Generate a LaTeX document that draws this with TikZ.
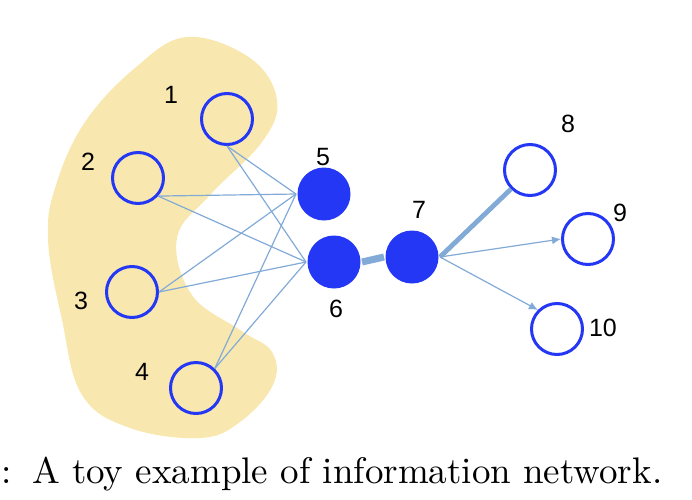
\documentclass[tikz,border=0pt]{standalone}
\usepackage{fontspec}
\newfontfamily\labelfont{Liberation Sans}
\usepackage{tikz}
\usetikzlibrary{arrows.meta}
\definecolor{nodeblue}{RGB}{35,55,245}
\definecolor{edgeblue}{RGB}{130,170,215}
\definecolor{blobyellow}{RGB}{248,232,176}
\tikzset{
    netnode/.style={circle,inner sep=0pt,line width=1.5pt},
    opennode/.style={netnode,draw=nodeblue,minimum size=25.5pt},
    fullnode/.style={netnode,fill=nodeblue,minimum size=26.5pt},
    numlabel/.style={font=\labelfont\fontsize{12.5}{14}\selectfont,inner sep=0pt},
    thinedge/.style={draw=edgeblue,line width=0.6pt},
    thickedge/.style={draw=edgeblue,line width=3.5pt},
    midedge/.style={draw=edgeblue,line width=2.4pt},
    arrowedge/.style={thinedge,-{Latex[length=4.5pt,width=4pt]}},
    caption/.style={anchor=base west,inner sep=0pt,font=\fontsize{10}{12}\selectfont}
}
\begin{document}
\begin{tikzpicture}[x=0.5pt,y=-0.5pt]
\useasboundingbox (0,0) rectangle (692,499);

% the yellow community
\fill[blobyellow] plot[smooth cycle,tension=0.65] coordinates {
    (187,37) (250,58) (277,100) (262,142) (210,195) (177,238)
    (192,295) (240,330) (272,352) (273,385) (240,422) (200,438)
    (130,428) (82,395) (62,320) (48,240) (56,185) (85,122) (135,68)};

% nodes
\node[opennode] (n1) at (227,119) {};
\node[opennode] (n2) at (138,178) {};
\node[opennode] (n3) at (132,292) {};
\node[opennode] (n4) at (196,388) {};
\node[fullnode] (n5) at (324,194) {};
\node[fullnode] (n6) at (334,262) {};
\node[fullnode] (n7) at (412,257) {};
\node[opennode] (n8) at (530,170) {};
\node[opennode] (n9) at (588,239) {};
\node[opennode] (n10) at (557,329) {};

% labels
\node[numlabel] (l1) at (171,95) {1};
\node[numlabel] (l2) at (88,162) {2};
\node[numlabel] (l3) at (81,301) {3};
\node[numlabel] (l4) at (142,372) {4};
\node[numlabel] (l5) at (323,157) {5};
\node[numlabel] (l6) at (336,309) {6};
\node[numlabel] (l7) at (419,210) {7};
\node[numlabel] (l8) at (568,124) {8};
\node[numlabel] (l9) at (620,213) {9};
\node[numlabel] (l10) at (603,328) {10};

% edges
\path[thinedge]
(n1.south) edge (n5.west)
           edge (n6.west)
(n2.-42)   edge (n5.west)
           edge (n6.west)
(n3.east)  edge (n5.west)
           edge (n6.west)
(n4.46)    edge (n5.west)
           edge (n6.west);
\draw[thickedge] (n6.east) -- (n7.west);
\draw[midedge] (n7.east) -- (n8.225);
\draw[arrowedge] (n7.east) -- (n9.west);
\draw[arrowedge] (n7.east) -- (n10.135);

\node[caption] (cap) at (1,483) {\scalebox{1.85}{:\hspace{5.5pt}A toy example of information network.}};

\end{tikzpicture}
\end{document}
